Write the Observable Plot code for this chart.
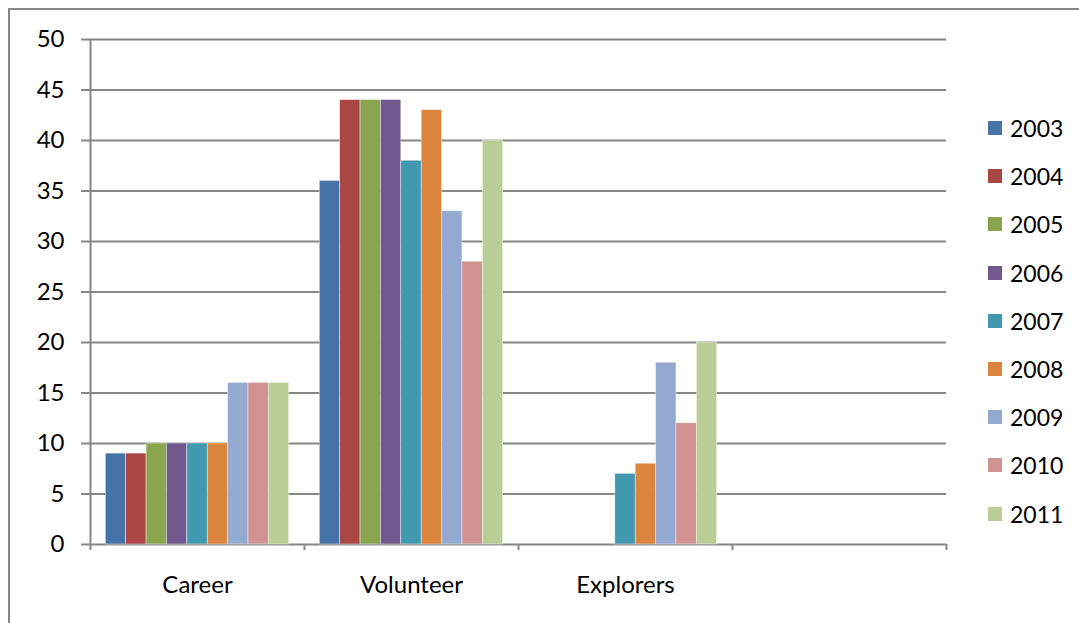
<!DOCTYPE html>
<html>
<head>
<meta charset="utf-8">
<script src="https://cdn.jsdelivr.net/npm/d3@7"></script>
<script src="https://cdn.jsdelivr.net/npm/@observablehq/plot@0.6"></script>
<style>
  html, body { margin: 0; padding: 0; background: #fff; }
  body { width: 1079px; height: 623px; position: relative; overflow: hidden; font-family: Lato, "Open Sans", sans-serif; }
  #border { position: absolute; left: 8px; top: 8px; width: 1200px; height: 800px; border: 2px solid #878787; box-sizing: border-box; }
  #chart { position: absolute; left: 0; top: 0; }
  #legend { position: absolute; left: 988px; top: 104px; }
  .row { display: flex; align-items: center; height: 48.2px; font-size: 23px; color: #000; }
  .sw { width: 14px; height: 14px; margin-right: 8px; }
</style>
</head>
<body>
<div id="border"></div>
<div id="chart"></div>
<div id="legend"></div>
<script>
const categories = ["Career", "Volunteer", "Explorers", ""];
const years = ["2003", "2004", "2005", "2006", "2007", "2008", "2009", "2010", "2011"];
const career = [9, 9, 10, 10, 10, 10, 16, 16, 16];
const volunteer = [36, 44, 44, 44, 38, 43, 33, 28, 40];
const explorers = [null, null, null, null, 7, 8, 18, 12, 20];
const colors = ["#4572A7", "#AA4643", "#89A54E", "#71588F", "#4198AF", "#DB843D", "#93A9CF", "#D19392", "#B9CD96"];
const yTicks = [0, 5, 10, 15, 20, 25, 30, 35, 40, 45, 50];

const series = [career, volunteer, explorers];
const rows = [];
series.forEach((vals, ci) => {
  vals.forEach((v, yi) => {
    if (v != null) rows.push({cat: ci, yi, year: years[yi], value: v});
  });
});
const slots = years.length + 1.5; // Excel gap width 150%
const x1 = d => d.cat + (0.75 + d.yi) / slots;
const x2 = d => d.cat + (0.75 + d.yi + 1) / slots;

const grey = "#878787";
const plot = Plot.plot({
  width: 960,
  height: 623,
  marginLeft: 90,
  marginRight: 14,
  marginTop: 39,
  marginBottom: 79,
  style: {fontFamily: "Lato, 'Open Sans', sans-serif", fontSize: "24px", color: "#000", background: "transparent"},
  x: {type: "linear", domain: [0, categories.length]},
  y: {domain: [0, 50]},
  color: {domain: years, range: colors},
  marks: [
    Plot.ruleY(yTicks, {y: d => d, stroke: grey, strokeWidth: 2}),
    Plot.axisY({ticks: yTicks, tickSize: 9, tickPadding: 17, stroke: grey, strokeWidth: 2, strokeOpacity: 1, label: null, fill: "#000", fontSize: 24}),
    Plot.rectY(rows, {x1, x2, y: "value", fill: d => d.year, stroke: "#fff", strokeWidth: 0.6, strokeOpacity: 0.7}),
    Plot.ruleX([0], {stroke: grey, strokeWidth: 2}),
    Plot.axisX({ticks: d3.range(categories.length + 1), tickSize: 6, tickFormat: () => "", stroke: grey, strokeWidth: 2, strokeOpacity: 1, label: null}),
    Plot.axisX({ticks: d3.range(categories.length).map(i => i + 0.5), tickSize: 0, tickPadding: 31, tickFormat: d => categories[Math.floor(d)], label: null, fill: "#000", fontSize: 24})
  ]
});
document.getElementById("chart").appendChild(plot);

const legend = document.getElementById("legend");
years.forEach((y, i) => {
  const r = document.createElement("div");
  r.className = "row";
  r.innerHTML = `<div class="sw" style="background:${colors[i]}"></div><span>${y}</span>`;
  legend.appendChild(r);
});
</script>
</body>
</html>
